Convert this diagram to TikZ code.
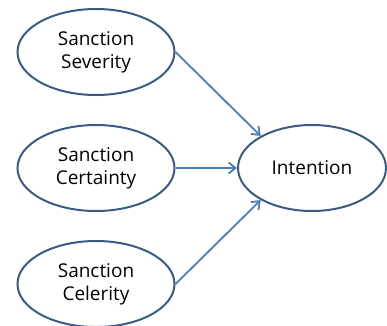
\documentclass[tikz,border=0pt]{standalone}
\usepackage{fontspec}
\setmainfont{Open Sans}
\usetikzlibrary{shapes.geometric,arrows.meta}
\definecolor{ellborder}{HTML}{3B5A85}
\definecolor{arrowblue}{HTML}{4A7EBB}
\begin{document}
\begin{tikzpicture}[x=1pt,y=-1pt,
  oval/.style={ellipse,draw=ellborder,line width=2pt,minimum width=157pt,minimum height=86pt,inner sep=0pt,align=center,font=\fontsize{19}{23}\selectfont},
  link/.style={draw=arrowblue,line width=1.8pt,-{Straight Barb[length=7pt,width=11pt,line width=1.8pt]}}]
\useasboundingbox (0,0) rectangle (387,325);
\node[oval] (sev) at (96,52) {Sanction\\Severity};
\node[oval] (cer) at (96,168) {Sanction\\Certainty};
\node[oval] (cel) at (96,284) {Sanction\\Celerity};
\node[oval,minimum width=148pt] (int) at (312,168) {Intention};
\draw[link] (sev.east) -- (int.148);
\draw[link] (cer.east) -- (int.west);
\draw[link] (cel.east) -- (int.212);
\end{tikzpicture}
\end{document}
